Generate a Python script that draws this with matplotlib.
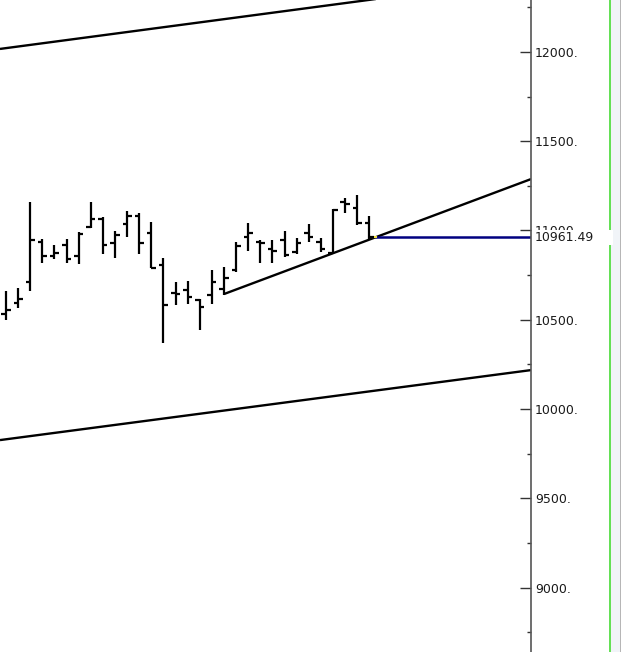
import matplotlib

matplotlib.use("Agg")
import matplotlib.pyplot as plt
from matplotlib.lines import Line2D
from matplotlib.patches import Rectangle
from matplotlib.ticker import FixedLocator, FuncFormatter
import numpy as np

# OHLC bars (bar index -1 is cut by the left edge)
bar_index = list(range(-1, 31))
opens = [10510, 10532, 10594, 10712, 10937, 10859, 10919, 10859, 11021, 11064, 10932,
         11035, 11083, 10984, 10807, 10648, 10667, 10611, 10639, 10672, 10776, 10965,
         10937, 10896, 10947, 10881, 10984, 10933, 10876, 11157, 11124, 11040]
highs = [10543, 10663, 10680, 11161, 10952, 10919, 10952, 10993, 11160, 11077, 10997,
         11111, 11096, 11049, 10844, 10713, 10717, 10614, 10776, 10796, 10933, 11042,
         10947, 10947, 10999, 10956, 11034, 10956, 11119, 11180, 11199, 11080]
lows = [10443, 10499, 10566, 10661, 10820, 10840, 10820, 10812, 11014, 10868, 10848,
        10965, 10868, 10788, 10368, 10583, 10587, 10443, 10588, 10641, 10765, 10884,
        10816, 10818, 10852, 10870, 10936, 10878, 10872, 11096, 11031, 10955]
closes = [10476, 10555, 10616, 10947, 10859, 10874, 10840, 10980, 11064, 10919, 10975,
          11083, 10928, 10792, 10583, 10643, 10629, 10573, 10709, 10732, 10912, 10986,
          10928, 10885, 10863, 10932, 10964, 10896, 11115, 11148, 11042, 10961.49]

# channel and trend lines: (x0, y0, x1, y1) in bar index / price
x_left, x_right = -0.4955, 43.35
channel_top = (x_left, 12017, x_right, 12412)
channel_bottom = (x_left, 9826, x_right, 10218)
trend_line = (18.0, 10644, x_right, 11288)
last_price = 10961.49
last_price_start = 30.55

major_ticks = [9000, 9500, 10000, 10500, 11000, 11500, 12000]
minor_ticks = [8750, 9250, 9750, 10250, 10750, 11250, 11750, 12250]

W, H = 624, 652
fig = plt.figure(figsize=(W / 100, H / 100), dpi=100)
fig.patch.set_facecolor("white")
ax = fig.add_axes([0, 0, 531 / W, 1])
ax.set_xlim(x_left, x_right)
ax.set_ylim(8639, 12291)

# bars
tick_w = 0.38
ax.vlines(bar_index, lows, highs, color="black", linewidth=1.6, zorder=3)
ax.hlines(opens, np.array(bar_index) - tick_w, bar_index, color="black", linewidth=1.6, zorder=3)
ax.hlines(closes, bar_index, np.array(bar_index) + tick_w, color="black", linewidth=1.6, zorder=3)

for x0, y0, x1, y1 in (channel_top, channel_bottom, trend_line):
    ax.plot([x0, x1], [y0, y1], color="black", linewidth=1.7, solid_capstyle="butt", zorder=2)

ax.plot([last_price_start, x_right], [last_price, last_price], color="#000080", linewidth=1.8, zorder=2)
ax.plot([last_price_start - 0.4, last_price_start], [last_price, last_price], color="#f0e040", linewidth=1.5, zorder=2)

# right-hand price axis
for side in ("left", "top", "bottom"):
    ax.spines[side].set_visible(False)
ax.spines["right"].set_color("#555555")
ax.spines["right"].set_linewidth(1.2)
ax.set_xticks([])
ax.yaxis.tick_right()
ax.yaxis.set_major_locator(FixedLocator(major_ticks))
ax.yaxis.set_minor_locator(FixedLocator(minor_ticks))
ax.yaxis.set_major_formatter(FuncFormatter(lambda v, p: f"{v:.0f}."))
ax.tick_params(axis="y", which="major", direction="in", length=8, width=1, color="#333333",
               pad=3, labelsize=9, labelcolor="#1a1a1a")
ax.tick_params(axis="y", which="minor", direction="in", length=3, width=1, color="#333333")

# right-side frame decorations
fig.patches.append(Rectangle((610.5 / W, 0), 9 / W, 1, transform=fig.transFigure,
                             facecolor="#f1f4f8", edgecolor="none", zorder=1))
fig.lines.append(Line2D([619.8 / W, 619.8 / W], [0, 1], transform=fig.transFigure,
                        color="#a8a8a8", linewidth=1.2, zorder=1))
fig.lines.append(Line2D([609.5 / W, 609.5 / W], [0, 1], transform=fig.transFigure,
                        color="#55dd44", linewidth=1.3, zorder=1))

# last price label (covers most of the 11000 tick label, as in the original)
y_lbl = ax.transData.transform((0, last_price))[1] / H
fig.patches.append(Rectangle((532.5 / W, y_lbl - 7.5 / H), 80 / W, 15 / H, transform=fig.transFigure,
                             facecolor="white", edgecolor="none", zorder=3))
fig.text(535 / W, y_lbl, f"{last_price:.2f}", ha="left", va="center", fontsize=9,
         color="#1a1a1a", zorder=4)

fig.savefig("out.png", dpi=100)
plt.close(fig)
